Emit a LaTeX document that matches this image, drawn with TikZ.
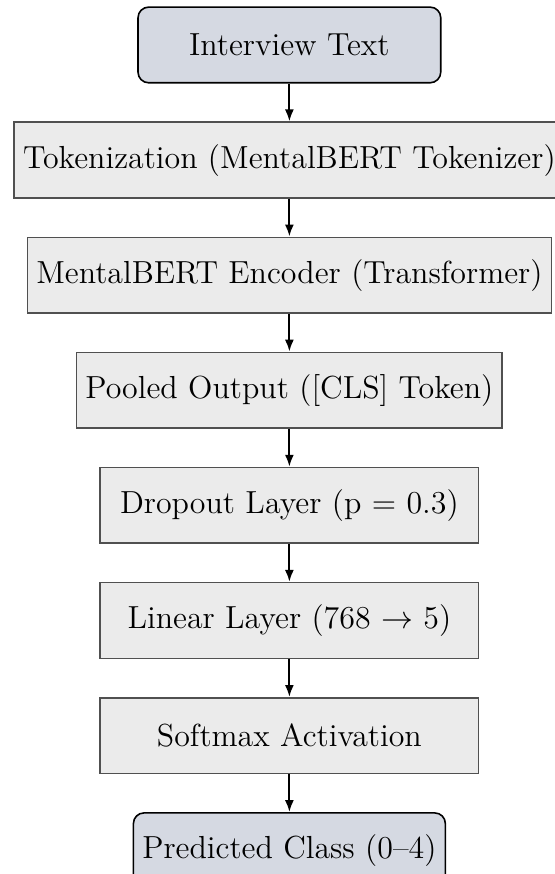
\documentclass[tikz,border=0pt]{standalone}
\usetikzlibrary{arrows.meta,positioning}
\definecolor{boxfill}{RGB}{235,235,235}
\definecolor{boxline}{RGB}{80,80,80}
\definecolor{termfill}{RGB}{213,217,226}
\begin{document}
\begin{tikzpicture}[
  font=\large,
  procbox/.style={draw=boxline, fill=boxfill, semithick, rectangle, minimum width=5cm, minimum height=1cm, align=center},
  termbox/.style={draw=black, fill=termfill, semithick, rectangle, rounded corners=4pt, minimum width=4cm, minimum height=1cm, align=center},
  flow/.style={-{Latex[length=4.5pt,width=3.4pt]}, thick, black}
]
\useasboundingbox (-108.8pt,16.9pt) rectangle (99.8pt,-311.7pt);
\node[termbox] (n0) at (0,0) {Interview Text};
\node[procbox, below=0.5cm of n0] (n1) {Tokenization (MentalBERT Tokenizer)};
\node[procbox, below=0.5cm of n1] (n2) {MentalBERT Encoder (Transformer)};
\node[procbox, below=0.5cm of n2] (n3) {Pooled Output ([CLS] Token)};
\node[procbox, below=0.5cm of n3] (n4) {Dropout Layer (p = 0.3)};
\node[procbox, below=0.5cm of n4] (n5) {Linear Layer (768 $\rightarrow$ 5)};
\node[procbox, below=0.5cm of n5] (n6) {Softmax Activation};
\node[termbox, below=0.5cm of n6] (n7) {Predicted Class (0--4)};
\draw[flow] (n0) -- (n1);
\draw[flow] (n1) -- (n2);
\draw[flow] (n2) -- (n3);
\draw[flow] (n3) -- (n4);
\draw[flow] (n4) -- (n5);
\draw[flow] (n5) -- (n6);
\draw[flow] (n6) -- (n7);
\end{tikzpicture}
\end{document}
